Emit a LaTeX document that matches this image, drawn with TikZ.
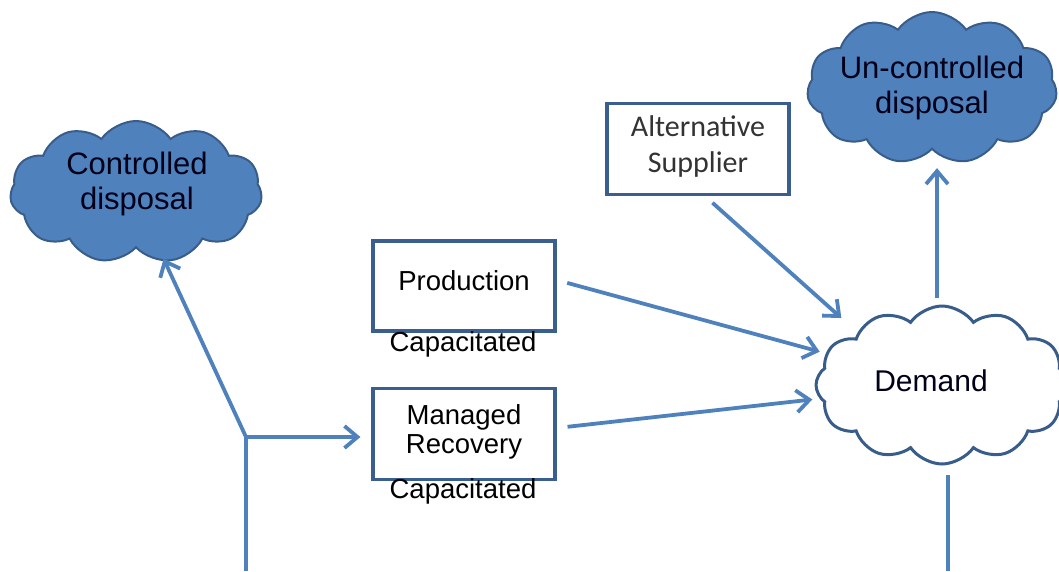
\documentclass[tikz,border=0pt]{standalone}
\usepackage{fontspec}
\setmainfont{Liberation Sans}
\newfontfamily\calfont{Carlito}
\usetikzlibrary{shapes.symbols,arrows.meta,calc}
\definecolor{arrblue}{HTML}{4F81BD}
\definecolor{cloudfill}{HTML}{4F81BD}
\definecolor{cloudedge}{HTML}{385D8A}
\definecolor{boxedge}{HTML}{3A5F8E}
\tikzset{
  arr/.style={draw=arrblue, line width=3.8pt, -{Straight Barb[length=13pt,width=22pt,line width=3.8pt]}},
  plainline/.style={draw=arrblue, line width=3.8pt},
  bluecloud/.style={cloud, cloud puffs=11, cloud puff arc=110, cloud ignores aspect, fill=cloudfill, draw=cloudedge, line width=2pt, inner sep=0pt},
  whitecloud/.style={cloud, cloud puffs=12, cloud puff arc=110, cloud ignores aspect, fill=white, draw=cloudedge, line width=3pt, inner sep=0pt},
  stepbox/.style={draw=boxedge, line width=3.2pt, fill=white, inner sep=0pt},
  cloudtext/.style={align=center, font=\fontsize{31}{35}\selectfont, text=black!90!blue},
  boxtext/.style={align=center, font=\fontsize{27.5}{29}\selectfont},
}
\begin{document}
\begin{tikzpicture}[x=1pt,y=-1pt]
\useasboundingbox (0,0) rectangle (1059,571);
% clouds
\node[bluecloud, minimum width=252pt, minimum height=142pt] (ctrl) at (136,192) {};
\node[cloudtext] (ctrllbl) at (137,184) {Controlled\\disposal};
\node[bluecloud, minimum width=250pt, minimum height=152pt] (unc) at (932,88) {};
\node[cloudtext] (unclbl) at (932,88) {Un-controlled\\disposal};
\node[whitecloud, minimum width=252pt, minimum height=158pt] (demand) at (942,385) {};
\node[cloudtext, font=\fontsize{30}{35}\selectfont] (demandlbl) at (931,381) {Demand};
% boxes
\node[stepbox, minimum width=182pt, minimum height=91pt] (alt) at (698,149) {};
\node[align=center, font=\calfont\fontsize{30}{36}\selectfont, text=black!80] (altlbl) at (698,146) {Alternative\\Supplier};
\node[stepbox, minimum width=182pt, minimum height=90pt] (prod) at (464,286) {};
\node[boxtext] (prodlbl) at (464,281) {Production};
\node[boxtext] (cap1) at (463,344) {Capacitated};
\node[stepbox, minimum width=182pt, minimum height=91pt] (mr) at (464,434) {};
\node[boxtext] (mrlbl) at (464,432) {Managed\\Recovery};
\node[boxtext] (cap2) at (463,491) {Capacitated};
% coordinates
\coordinate (j) at (246,437);
\coordinate (jbot) at (246,571);
\coordinate (dbot) at (948,571);
% connectors
\draw[arr, shorten <=11pt, shorten >=6pt] (prod.east |- 0,280) -- (demand);
\draw[arr, shorten <=11pt, shorten >=7pt] (mr.east |- 0,428) -- (demand);
\draw[arr, shorten <=10pt, shorten >=135pt] (alt.south -| 705,0) -- ($(demand)+(0,23)$);
\draw[arr, shorten >=11pt] (j) -- (mr.west |- j);
\draw[arr, shorten >=68pt] (j) -- ($(ctrl)+(-1,5)$);
\draw[plainline] (jbot) -- (j);
\draw[arr, shorten <=7pt, shorten >=18pt] (demand.north -| 937,0) -- (unc.south -| 937,0);
\draw[plainline, shorten <=9pt] (dbot |- demand.south) -- (dbot);
\end{tikzpicture}
\end{document}
